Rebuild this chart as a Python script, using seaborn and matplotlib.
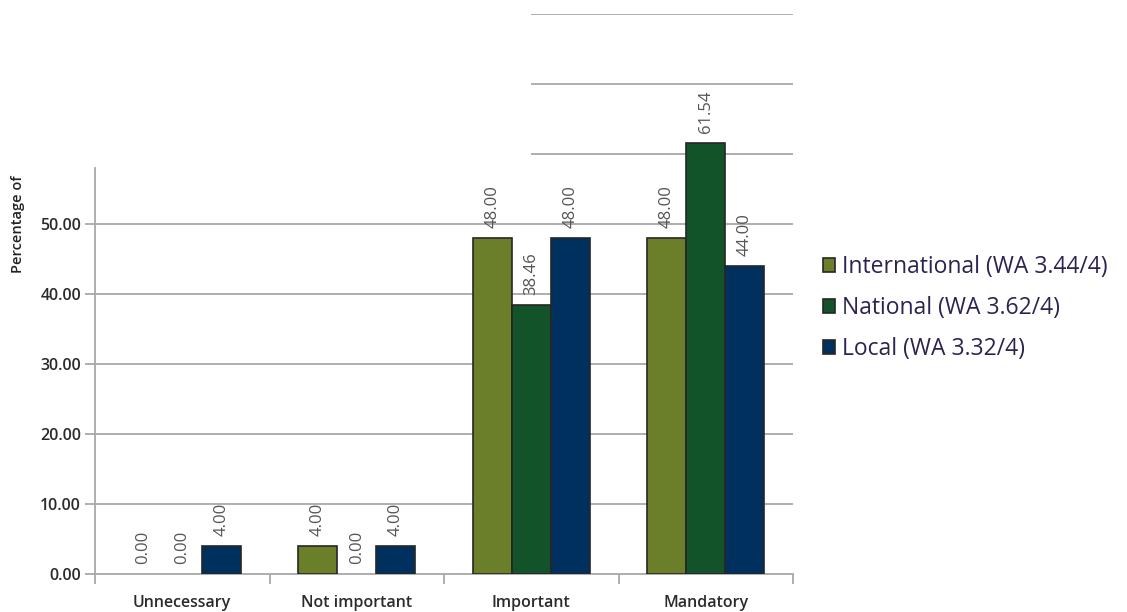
import matplotlib
matplotlib.use("Agg")
import matplotlib.pyplot as plt
import seaborn as sns
import pandas as pd
from matplotlib.ticker import FixedLocator
from matplotlib.patches import Patch

# Survey answers: share of respondents (%) per importance level
categories = ["Unnecessary", "Not important", "Important", "Mandatory"]
series_names = ["International (WA 3.44/4)", "National (WA 3.62/4)", "Local (WA 3.32/4)"]
international = [0.00, 4.00, 48.00, 48.00]
national = [0.00, 0.00, 38.46, 61.54]
local = [4.00, 4.00, 48.00, 44.00]
y_ticks = [0, 10, 20, 30, 40, 50]
upper_grid = [60, 70, 80]

colors = ["#6b7f2a", "#135329", "#00305e"]
edge = "#262626"

rows = []
for name, vals in zip(series_names, [international, national, local]):
    for cat, v in zip(categories, vals):
        rows.append({"Category": cat, "Series": name, "Value": v})
df = pd.DataFrame(rows)

sns.set_style("white")
plt.rcParams["font.family"] = ["Open Sans", "DejaVu Sans"]

fig = plt.figure(figsize=(11.27, 6.12), dpi=100)
ax = fig.add_axes([95 / 1127, 1 - 574 / 612, (793 - 95) / 1127, (574 - 14) / 612])

sns.barplot(data=df, x="Category", y="Value", hue="Series", order=categories,
            hue_order=series_names, palette=colors, saturation=1, width=0.67, gap=0,
            edgecolor=edge, linewidth=1.2, ax=ax, legend=False, zorder=3)

# empty bars carry no outline
for p in ax.patches:
    if p.get_height() == 0:
        p.set_linewidth(0)

ax.set_xlim(-0.5, 3.5)
ax.set_ylim(0, 80)

grid_col = "#a8a8a8"
ax.set_yticks(y_ticks)
ax.set_yticklabels([f"{t:.2f}" for t in y_ticks])
for t in y_ticks[1:]:
    ax.axhline(t, color=grid_col, lw=1.3, zorder=1)
ax.hlines(upper_grid, 2.0, 3.5, color=grid_col, lw=1.3, zorder=1)

for s in ["top", "right"]:
    ax.spines[s].set_visible(False)
ax.spines["left"].set_bounds(0, 58)
ax.spines["left"].set_color(grid_col)
ax.spines["bottom"].set_color(grid_col)
ax.spines["left"].set_linewidth(1.3)
ax.spines["bottom"].set_linewidth(1.3)

ax.tick_params(axis="y", length=7, width=1.3, color=grid_col, left=True,
               labelsize=11.5, labelcolor="#2b2b2b", pad=3)
ax.tick_params(axis="x", which="major", length=0, labelsize=11.5,
               labelcolor="#2b2b2b", pad=15)
ax.xaxis.set_minor_locator(FixedLocator([-0.5, 0.5, 1.5, 2.5, 3.5]))
ax.tick_params(axis="x", which="minor", length=7, width=1.3, color=grid_col, bottom=True)
for lab in ax.get_yticklabels() + ax.get_xticklabels():
    lab.set_fontweight("semibold")

ax.set_xlabel("")
ax.set_ylabel("")
fig.text(18 / 1127, 1 - 224 / 612, "Percentage of", rotation=90, ha="center",
         va="center", fontsize=10.5, fontweight="semibold", color="#222222")

for cont in ax.containers:
    ax.bar_label(cont, fmt="%.2f", rotation=90, padding=7, fontsize=12,
                 color="#555555", zorder=4)

handles = [Patch(facecolor=c, edgecolor=edge, linewidth=1.2) for c in colors]
fig.legend(handles, series_names, loc="center left", bbox_to_anchor=(802 / 1127, 1 - 308 / 612),
           frameon=False, fontsize=16.5, handlelength=0.55, handleheight=0.55,
           handletextpad=0.3, labelspacing=0.75, labelcolor="#2a2550")

fig.savefig("out.png", dpi=100)
